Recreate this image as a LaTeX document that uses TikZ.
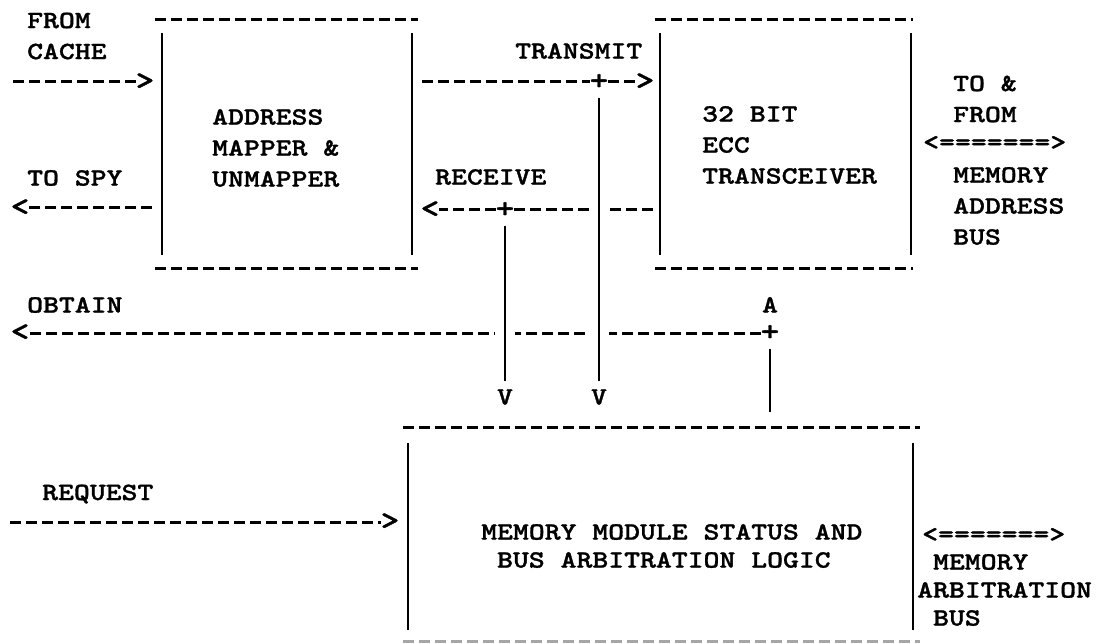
\documentclass[tikz,border=0pt]{standalone}
\usepackage{fontspec}
\newfontfamily\typer{lmmonolt10-bold.otf}[FakeStretch=1.22,FakeBold=1.2]
\usepackage{tikz}

\begin{document}
\begin{tikzpicture}
[x=1pt,y=-1pt,
lbl/.style={font={\fontsize{24.8}{31}\typer},inner sep=0pt,anchor=west,align=left},
lblTight/.style={lbl,font={\fontsize{24.8}{28}\typer}},
glyph/.style={font={\fontsize{24.8}{31}\typer},inner xsep=0pt,inner ysep=8pt,text height=15pt,text depth=0pt},
tip/.style={glyph,font={\fontsize{29}{31}\typer}},
frame/.style={inner sep=0pt},
dashLine/.style={line width=3pt,dash pattern=on 11pt off 5pt},
sideLine/.style={line width=2pt},
wire/.style={line width=2pt},
crossLine/.style={preaction={draw=white,line width=20pt}},
faded/.style={draw=black!35}]
\useasboundingbox (0,0) rectangle (1099,644);

\node[frame,minimum width=250pt,minimum height=248pt] (mapper) at (287,144) {};
\node[frame,minimum width=251pt,minimum height=248pt] (ecc) at (785.5,144) {};
\node[frame,minimum width=505pt,minimum height=213pt] (memlogic) at (660.5,534.5) {};

\node[lbl] (mapperText) at (212,148) {ADDRESS\\MAPPER \&\\UNMAPPER};
\node[lbl] (eccText) at (702,145) {32 BIT\\ECC\\TRANSCEIVER};
\node[lblTight] (memText) at (481,546) {MEMORY MODULE STATUS AND\\\hphantom{B}BUS ARBITRATION LOGIC};
\node[lbl] (fromCache) at (27,36) {FROM\\CACHE};
\node[lbl] (toSpy) at (27,178) {TO SPY};
\node[lbl] (obtain) at (27,305) {OBTAIN};
\node[lbl] (request) at (42,494) {REQUEST};
\node[lbl] (transmit) at (515,51) {TRANSMIT};
\node[lbl] (receive) at (435,177) {RECEIVE};
\node[lbl] (toFrom) at (953,99) {TO \&\\FROM};
\node[lbl] (addrBus) at (923,143) {<=======>};
\node[lbl] (addrBusName) at (953,206) {MEMORY\\ADDRESS\\BUS};
\node[lbl] (arbBus) at (922,535) {<=======>};
\node[lblTight] (arbBusName) at (917,590) {\hphantom{A}MEMORY\\ARBITRATION\\\hphantom{A}BUS};

\coordinate (cacheIn) at (13,82);
\node[tip] (cacheHead) at (145,82) {>};
\coordinate (txStart) at (422,82);
\node[tip] (txPlus) at (599,82) {+};
\node[tip] (txHead) at (645,82) {>};
\coordinate (spyStart) at (152,208);
\node[tip] (spyHead) at (20,208) {<};
\coordinate (rxStart) at (653,210);
\node[tip] (rxPlus) at (505,210) {+};
\node[tip] (rxHead) at (430,210) {<};
\node[tip] (obtainHead) at (20,333) {<};
\node[tip] (aPlus) at (770,333) {+};
\node[glyph] (aHead) at (770,305) {A};
\node[glyph] (rxV) at (505,397) {V};
\node[glyph] (txV) at (599,397) {V};
\coordinate (aBase) at (770,412);
\coordinate (reqIn) at (10,522);
\node[tip] (reqHead) at (390,522) {>};

\draw[dashLine] ([xshift=-7pt]mapper.north west) -- ([xshift=6pt]mapper.north east);
\draw[dashLine] ([xshift=-7pt]mapper.south west) -- ([xshift=6pt]mapper.south east);
\draw[sideLine] ([yshift=-13pt]mapper.north west) -- ([yshift=13pt]mapper.south west);
\draw[sideLine] ([yshift=-13pt]mapper.north east) -- ([yshift=13pt]mapper.south east);
\draw[dashLine] ([xshift=-5pt]ecc.north west) -- ([xshift=2pt]ecc.north east);
\draw[dashLine] ([xshift=-5pt]ecc.south west) -- ([xshift=2pt]ecc.south east);
\draw[sideLine] ([yshift=-13pt]ecc.north west) -- ([yshift=13pt]ecc.south west);
\draw[sideLine] ([yshift=-13pt]ecc.north east) -- ([yshift=13pt]ecc.south east);
\draw[dashLine] ([xshift=-5pt]memlogic.north west) -- ([xshift=7pt]memlogic.north east);
\draw[dashLine,faded] ([xshift=-5pt]memlogic.south west) -- ([xshift=7pt]memlogic.south east);
\draw[sideLine] ([yshift=-15pt]memlogic.north west) -- ([yshift=11pt]memlogic.south west);
\draw[sideLine] ([yshift=-15pt]memlogic.north east) -- ([yshift=11pt]memlogic.south east);

\draw[dashLine] (cacheIn) -- (cacheHead);
\draw[dashLine] (txStart) -- (txPlus) -- (txHead);
\draw[dashLine] (spyStart) -- (spyHead);
\draw[dashLine] (rxStart) -- (rxPlus) -- (rxHead);
\draw[dashLine] (aPlus) -- (obtainHead);
\draw[dashLine] (reqIn) -- (reqHead);

\draw[wire,crossLine] (rxPlus) -- (rxV);
\draw[wire,crossLine] (txPlus) -- (txV);
\draw[wire] (aBase) -- (aPlus);
\end{tikzpicture}
\end{document}
